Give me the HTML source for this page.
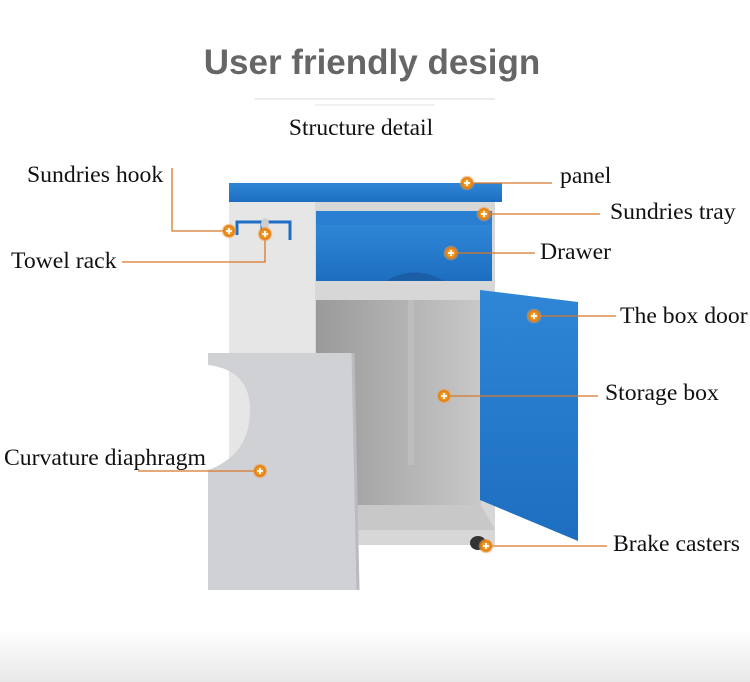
<!DOCTYPE html>
<html><head><style>
html,body{margin:0;padding:0;background:#fff;}
svg{display:block}
text{font-family:"Liberation Serif",serif;fill:#111;font-size:23.7px}
</style></head><body>
<svg width="750" height="682" viewBox="0 0 750 682" xmlns="http://www.w3.org/2000/svg">
<defs>
<linearGradient id="fade" x1="0" y1="0" x2="0" y2="1"><stop offset="0" stop-color="#fff"/><stop offset="1" stop-color="#e8e8e8"/></linearGradient>
<linearGradient id="blue" x1="0" y1="0" x2="0" y2="1"><stop offset="0" stop-color="#2f86d6"/><stop offset="1" stop-color="#1d6ec0"/></linearGradient>
<linearGradient id="inside" x1="0" y1="0" x2="1" y2="0"><stop offset="0" stop-color="#9a9a9a"/><stop offset="1" stop-color="#c8c8c8"/></linearGradient>
<radialGradient id="dot"><stop offset="0.45" stop-color="#f39a21"/><stop offset="0.7" stop-color="#e07a10"/><stop offset="1" stop-color="#f5b060" stop-opacity="0.2"/></radialGradient>
<g id="d"><circle r="7.5" fill="url(#dot)"/><path d="M-3 0H3M0 -3V3" stroke="#fff" stroke-width="1.8"/></g>
</defs>
<rect x="0" y="630" width="750" height="52" fill="url(#fade)"/>
<text x="372" y="74" text-anchor="middle" style="font-family:'Liberation Sans',sans-serif;font-size:35px;fill:#666;font-weight:600">User friendly design</text>
<rect x="255" y="98" width="240" height="2" fill="#ececec"/>
<rect x="315" y="104" width="120" height="2" fill="#f0f0f0"/>
<text x="361" y="135" text-anchor="middle" style="font-size:23.5px">Structure detail</text>

<rect x="229" y="200" width="88" height="345" fill="#e6e6e6"/>
<rect x="315" y="200" width="180" height="345" fill="#d7d7d7"/>
<rect x="229" y="183" width="273" height="19" fill="url(#blue)"/>
<rect x="316" y="211" width="176" height="14" fill="#2a7fd2"/>
<rect x="316" y="225" width="176" height="56" fill="url(#blue)"/>
<path d="M386 281 Q415 264 444 281Z" fill="#1a5ea8"/>
<rect x="316" y="300" width="165" height="205" fill="url(#inside)"/>
<rect x="408" y="300" width="6" height="165" fill="#bdbdbd"/>
<path d="M316 505 L481 505 L495 530 L340 530Z" fill="#c8c8c8"/>
<path d="M237 235 V222 H262 V238 M265 222 H290 V240" stroke="#1e6fc4" stroke-width="3" fill="none"/>
<ellipse cx="265" cy="224" rx="4" ry="6" fill="#cfcfcf"/>
<path d="M480 290 L578 302 L578 541 L480 500Z" fill="url(#blue)"/>
<ellipse cx="478" cy="543" rx="8" ry="7" fill="#333"/>
<path d="M208 353 L353 353 L358 590 L208 590 L208 470 Q250 455 250 410 Q250 370 208 365Z" fill="#cfd1d5"/>
<path d="M353 353 L358 590" stroke="#b9bbbf" stroke-width="3"/>

<g stroke="#d8782a" stroke-width="1.3" fill="none">
<path d="M467 183 H552"/>
<path d="M484 214 H600"/>
<path d="M451 253 H535"/>
<path d="M534 316 H616"/>
<path d="M444 396 H598"/>
<path d="M260 471 H138"/>
<path d="M486 546 H607"/>
<path d="M229 231 H172 V168"/>
<path d="M265 234 V262 H122"/>
</g>
<use href="#d" x="467" y="183"/><use href="#d" x="484" y="214"/><use href="#d" x="451" y="253"/>
<use href="#d" x="534" y="316"/><use href="#d" x="444" y="396"/><use href="#d" x="260" y="471"/>
<use href="#d" x="486" y="546"/><use href="#d" x="229" y="231"/><use href="#d" x="265" y="234"/>

<text x="27" y="182">Sundries hook</text>
<text x="11" y="268">Towel rack</text>
<text x="4" y="465">Curvature diaphragm</text>
<text x="560" y="183">panel</text>
<text x="610" y="219">Sundries tray</text>
<text x="540" y="259">Drawer</text>
<text x="620" y="323">The box door</text>
<text x="605" y="400">Storage box</text>
<text x="613" y="551">Brake casters</text>
</svg>
</body></html>
